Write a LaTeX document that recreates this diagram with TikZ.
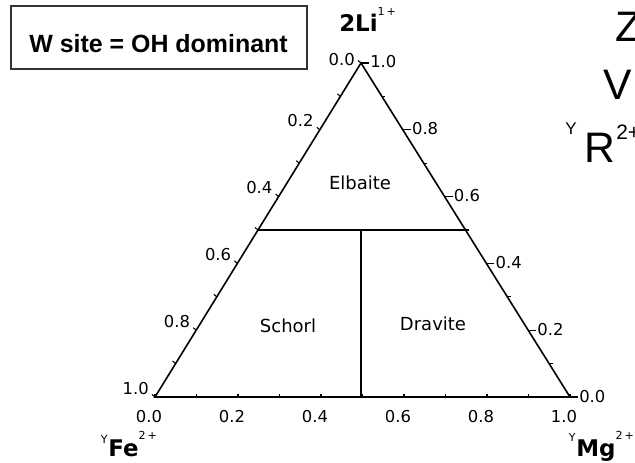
\documentclass[tikz,border=0pt]{standalone}
\usepackage{fontspec}
\setmainfont{DejaVu Sans}
\newfontfamily\lsans{Liberation Sans}
\usetikzlibrary{calc}
\begin{document}
\begin{tikzpicture}[x=0.75pt,y=-0.75pt,
  num/.style={inner sep=0pt, font=\fontsize{12.3}{14}\selectfont},
  region/.style={inner sep=0pt, font=\fontsize{13.5}{16}\selectfont},
  endlbl/.style={inner sep=0pt, font=\fontsize{17.2}{20}\selectfont\bfseries},
  presup/.style={inner sep=0pt, font=\fontsize{8.3}{10}\selectfont},
  big/.style={inner sep=0pt, font=\lsans\fontsize{32}{36}\selectfont},
  axisline/.style={line width=1.2pt, line join=miter},
  tickln/.style={line width=0.8pt}]
\newcommand{\supb}[1]{\raisebox{12.5pt}{\mdseries\fontsize{8.3}{10}\selectfont #1}}
\useasboundingbox (0,0) rectangle (635,463);
\fill[white] (0,0) rectangle (635,463);
% frame box
\draw[black!80, line width=0.8pt] (11,6) rectangle (307,69);
\node[inner sep=0pt, anchor=base, font=\lsans\bfseries\fontsize{18.7}{22}\selectfont] (wsite) at (158.5,53) {W site = OH dominant};
% vertices
\coordinate (A) at (361,63);
\coordinate (L) at (155,397);
\coordinate (R) at (570,397);
% ticks
\foreach \i in {0,...,10} {
  \coordinate (l\i) at ($(A)!\i/10!(L)$);
  \coordinate (r\i) at ($(A)!\i/10!(R)$);
  \coordinate (b\i) at ($(L)!\i/10!(R)$);
  \draw[tickln] (l\i) -- ++(-3,-2.5);
  \draw[tickln] (b\i) -- ++(0,-3.5);
}
\foreach \i in {1,3,5,7,9} { \draw[tickln] (r\i) -- ++(3.5,0); }
\foreach \i in {0,2,4,6,8,10} { \draw[tickln] (r\i) -- ++(8,0); }
% triangle
\draw[axisline] (A) -- (L) -- (R) -- cycle;
% dividers
\coordinate (ml) at ($(A)!0.5!(L)$);
\coordinate (mr) at ($(A)!0.5!(R)$);
\coordinate (mb) at (361,397);
\draw[line width=0.8pt] (ml) -- (mr);
\draw[line width=1.4pt] (mb |- ml) -- (mb);
% left labels
\node[num, anchor=base east] (lt0) at ($(l0)+(-6,3)$) {0.0};
\foreach \i/\t in {2/0.2,4/0.4,6/0.6,8/0.8,10/1.0} {
  \node[num, anchor=base east] (lt\i) at ($(l\i)+(-6,-3)$) {\t};
}
% right labels
\foreach \i/\t in {0/1.0,2/0.8,4/0.6,6/0.4,8/0.2,10/0.0} {
  \node[num, anchor=base west] (rt\i) at ($(r\i)+(9,5)$) {\t};
}
% bottom labels
\foreach \i/\t in {0/0.0,2/0.2,4/0.4,6/0.6,8/0.8,10/1.0} {
  \node[num, anchor=base] (bt\i) at ($(b\i)+(-6,25)$) {\t};
}
% region labels
\node[region] (elbaite) at (360,183) {Elbaite};
\node[region] (schorl) at (288,326) {Schorl};
\node[region] (dravite) at (433,324) {Dravite};
% end labels
\node[endlbl, anchor=base west] (li) at (339,32) {2Li\supb{1\hspace{1.5pt}+}};
\node[endlbl, anchor=base west] (fe) at (108,456) {Fe\supb{2\hspace{1.5pt}+}};
\node[presup, anchor=base east] (fey) at (108,443) {Y};
\node[endlbl, anchor=base west] (mg) at (576,456) {Mg\supb{2\hspace{1.5pt}+}};
\node[presup, anchor=base east] (mgy) at (576,441) {Y};
% right cut-off text
\node[big, anchor=base west] (zl) at (615,42) {Z};
\node[big, anchor=base west] (vl) at (603,100) {V};
\node[big, anchor=base west] (rl) at (584,163) {R};
\node[inner sep=0pt, anchor=base west, font=\lsans\fontsize{15.7}{18}\selectfont] (rsup) at (616,140) {2+};
\node[inner sep=0pt, anchor=base west, font=\lsans\fontsize{12.7}{15}\selectfont] (ry) at (565,135) {Y};
\end{tikzpicture}
\end{document}
